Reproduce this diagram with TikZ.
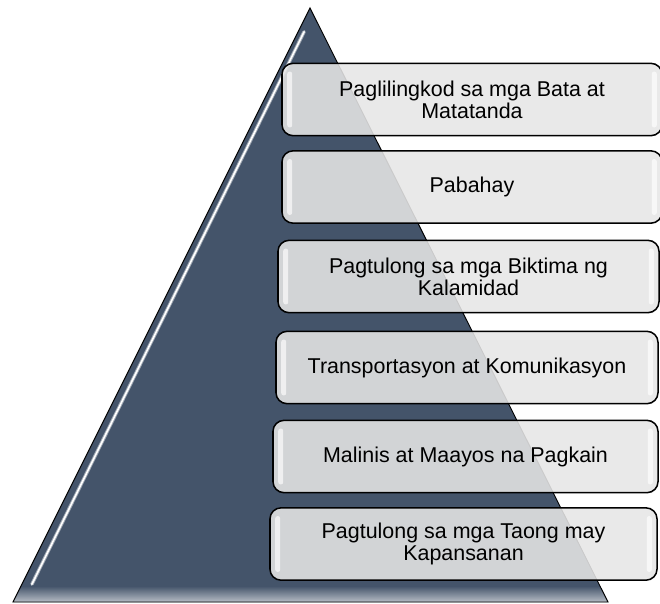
\documentclass[tikz,border=0pt]{standalone}
\usepackage{fontspec}
\setmainfont{Liberation Sans}
\usetikzlibrary{calc}
\definecolor{slate}{HTML}{44546A}
\definecolor{tierfill}{HTML}{E6E6E6}
\begin{document}
\begin{tikzpicture}[x=0.03cm,y=-0.03cm]
    \tikzset{tier/.style = {draw=black, line width=1.3pt, rounded corners=0.33cm,
        fill=tierfill, fill opacity=0.88, text opacity=1, align=center,
        minimum height=2.17cm, font=\fontsize{18.3}{19}\selectfont}}
    \tikzset{shine/.style = {fill=white, opacity=0.65, rounded corners=2pt}}
    \useasboundingbox (0,0) rectangle (660,603);
    % pyramid
    \coordinate (apex) at (310,8);
    \coordinate (bl) at (13,602);
    \coordinate (br) at (608,602);
    \fill[slate] (apex) -- (bl) -- (br) -- cycle;
    \begin{scope}
        \clip (apex) -- (bl) -- (br) -- cycle;
        \shade[top color=slate, bottom color=slate!35!white] (0,586) rectangle (660,603);
    \end{scope}
    \draw[slate!40!white, line width=3pt, opacity=0.8, line cap=round]
        ($(apex)!0.04!(bl)+(6,0)$) -- ($(apex)!0.97!(bl)+(10,0)$);
    \draw[white, line width=1.4pt, line cap=round]
        ($(apex)!0.04!(bl)+(6,0)$) -- ($(apex)!0.97!(bl)+(10,0)$);
    \draw[black, line width=0.8pt] (apex) -- (bl) -- (br) -- cycle;
    % tiers from top to bottom
    \node[tier, minimum width=11.4cm] (t1) at (472,99.5) {Paglilingkod sa mga Bata at\\Matatanda};
    \node[tier, minimum width=11.4cm] (t2) at (472,187) {Pabahay};
    \node[tier, minimum width=11.43cm] (t3) at (468.5,276.5) {Pagtulong sa mga Biktima ng\\Kalamidad};
    \node[tier, minimum width=11.46cm] (t4) at (467,367.5) {Transportasyon at Komunikasyon};
    \node[tier, minimum width=11.55cm] (t5) at (465.5,456.5) {Malinis at Maayos na Pagkain};
    \node[tier, minimum width=11.61cm] (t6) at (463.5,544) {Pagtulong sa mga Taong may\\Kapansanan};
    % highlights at the tier ends
    \foreach \t in {t1,t2,t3,t4,t5,t6} {
        \fill[shine] ($(\t.north west)+(6,9)$) rectangle ($(\t.south west)+(11,-9)$);
        \fill[shine] ($(\t.north east)+(-11,9)$) rectangle ($(\t.south east)+(-6,-9)$);
    }
\end{tikzpicture}
\end{document}
